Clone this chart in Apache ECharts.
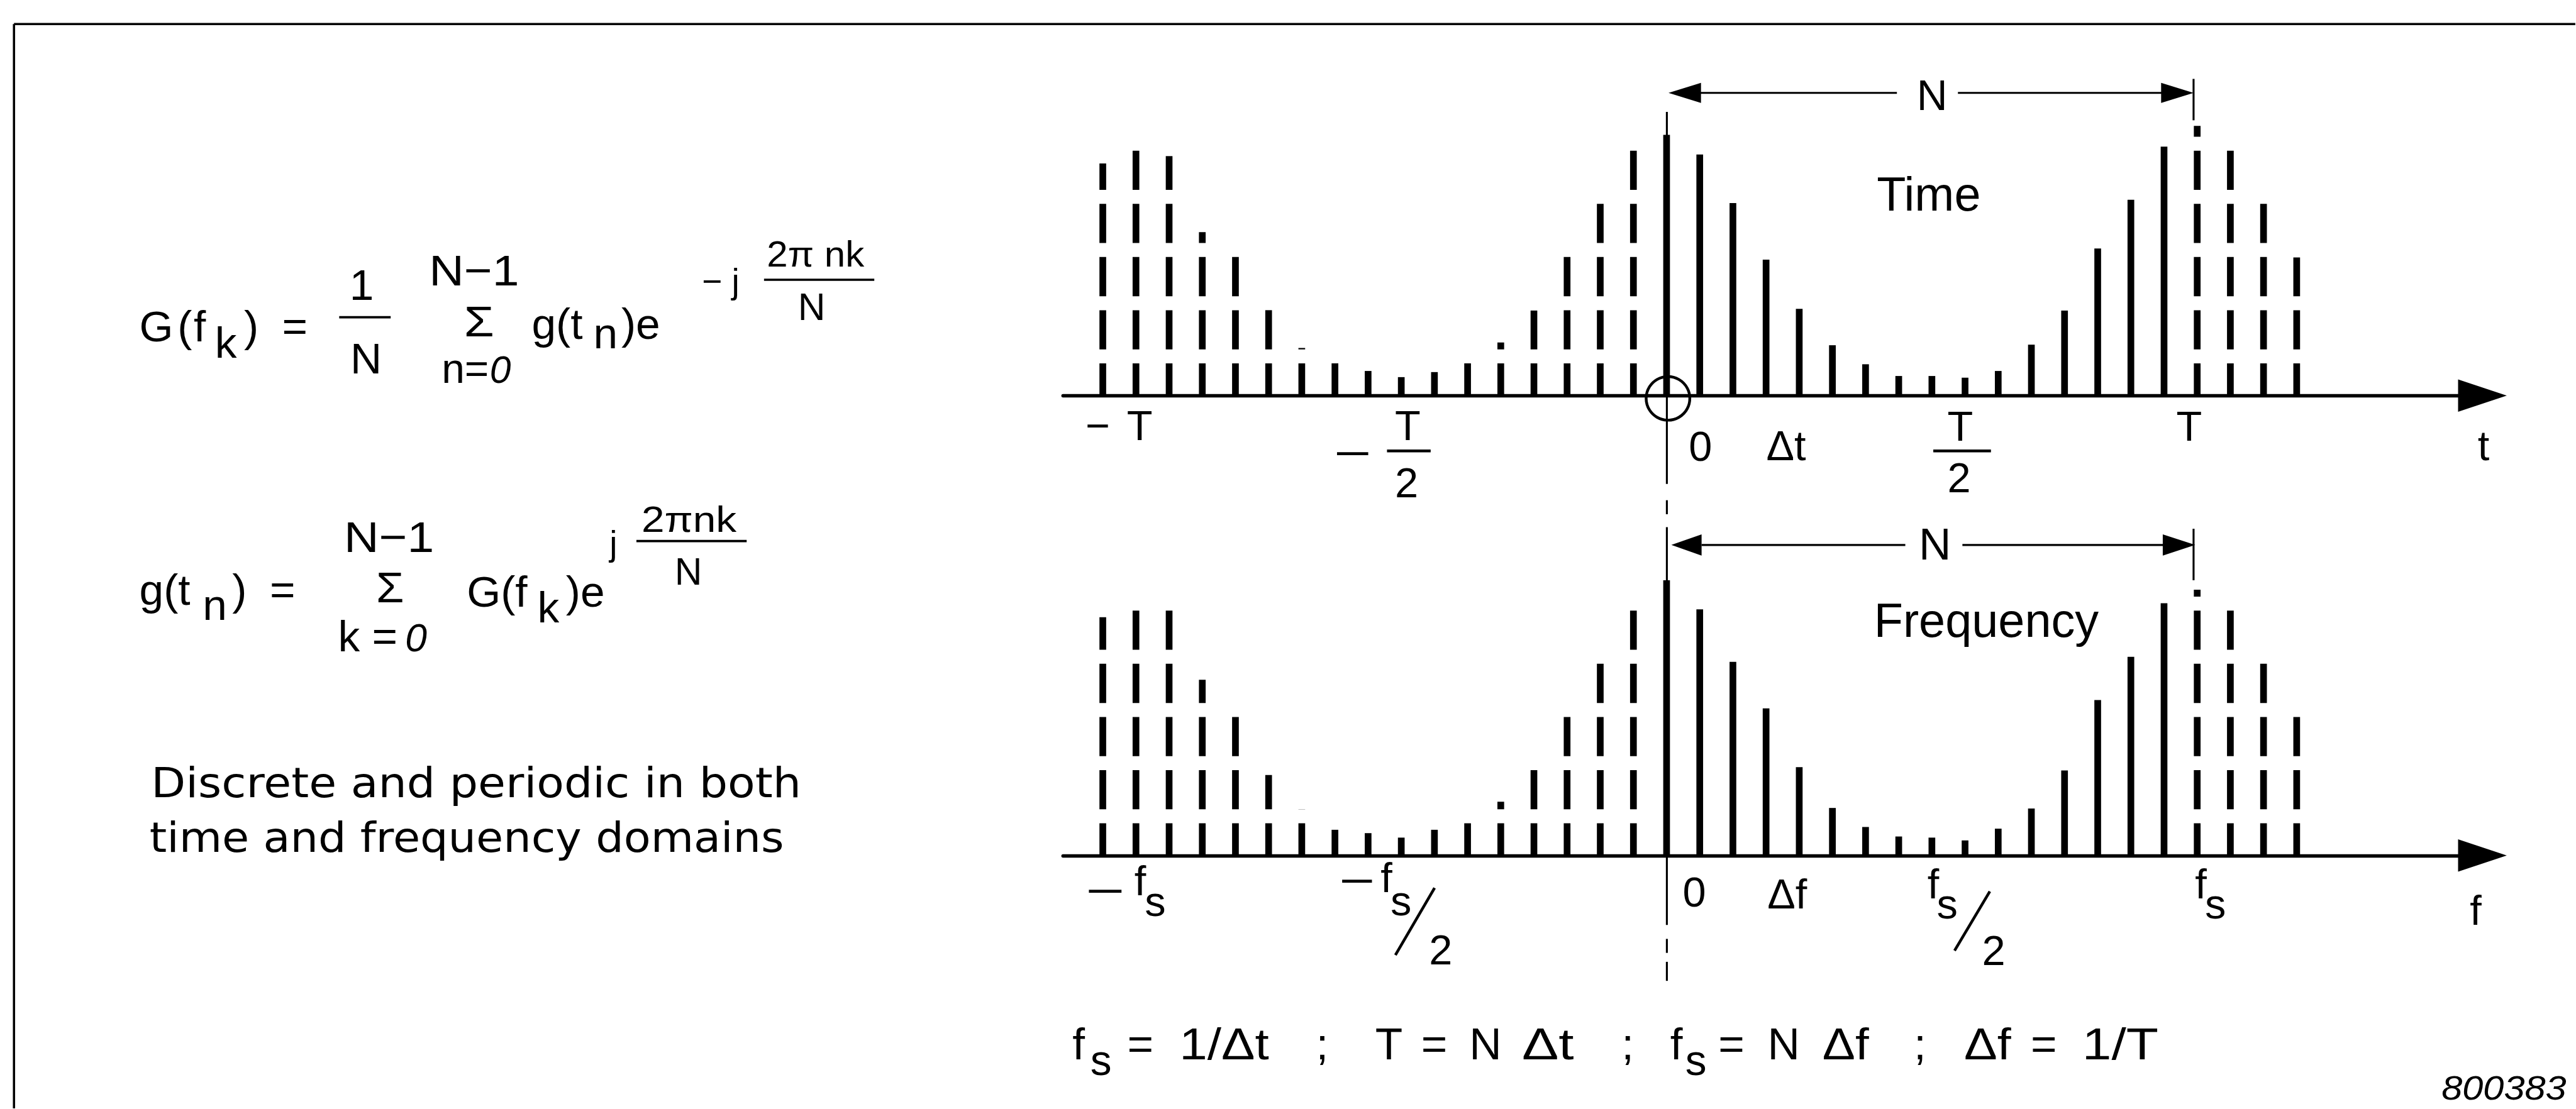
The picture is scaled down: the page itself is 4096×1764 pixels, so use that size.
<!DOCTYPE html>
<html><head><meta charset="utf-8">
<script src="https://cdn.jsdelivr.net/npm/echarts@6/dist/echarts.min.js"></script>
<style>html,body{margin:0;padding:0;background:#fff}#c{width:4096px;height:1764px}</style>
</head><body><div id="c"></div>
<script>
// ---------------- data ----------------
const sampleIndex = [-17,-16,-15,-14,-13,-12,-11,-10,-9,-8,-7,-6,-5,-4,-3,-2,-1,0,1,2,3,4,5,6,7,8,9,10,11,12,13,14,15,16,17,18,19];
const stemStyle = ['dashed','dashed','dashed','dashed','dashed','dashed','dashed','dashed','dashed','dashed','dashed','dashed','dashed','dashed','dashed','dashed','dashed',
  'solid','solid','solid','solid','solid','solid','solid','solid','solid','solid','solid','solid','solid','solid','solid','solid',
  'dashed','dashed','dashed','dashed'];
const timeValues = [83.0,89.2,85.6,58.4,49.8,31.2,17.0,12.0,8.8,6.6,8.4,12.8,19.0,30.4,50.2,69.6,88.4,
  93.2,86.2,68.8,48.6,31.0,18.0,11.2,7.0,7.0,6.4,8.8,18.2,30.4,52.6,70.0,89.0,96.4,90.4,68.8,49.4];
const freqValues = [85.2,90.8,88.0,62.8,50.6,28.8,16.6,9.2,8.0,6.4,9.2,15.6,19.2,33.6,51.8,71.0,89.6,
  98.4,88.0,69.2,52.6,31.6,17.0,10.2,6.8,6.4,5.4,9.6,16.8,30.4,55.6,71.0,90.2,95.0,88.4,70.0,50.6];
const timeTickLabels = ['−T', '−T/2', '0', 'Δt', 'T/2', 'T'];
const freqTickLabels = ['−fs', '−fs/2', '0', 'Δf', 'fs/2', 'fs'];
const axisNames = ['t', 'f'];
const panelTitles = ['Time', 'Frequency'];
const periodLabel = 'N';

// ---------------- layout (reference pixels, scaled by S) ----------------
const S = 0.89;
const OX = 2977.5, UX = 59.25, UY = 5;
const TOP_BASE = 707, BOT_BASE = 1529;
const XMIN = -18.2, XMAX = 24.6, YMAX = 100;
const LABEL = 75;

const ctx = document.createElement('canvas').getContext('2d');
function measure(text, fs, size, fam) { ctx.font = fs + ' ' + size + 'px "' + fam + '"'; return ctx.measureText(text).width; }

function txt(map, X, B, text, size, o) {
  o = o || {};
  const fam = o.fam || 'Liberation Sans';
  const fs = o.italic ? 'italic' : 'normal';
  const align = o.align || 'left';
  const sx = o.w ? o.w / measure(text, fs, size, fam) : 1;
  const p = map(X, B - 0.3465 * size);
  return { type: 'text', x: p[0], y: p[1], scaleX: sx, silent: true,
    style: { text: text, x: 0, y: 0, fontSize: size * S, fontFamily: fam, fontStyle: fs, fill: '#000',
      align: align, verticalAlign: 'middle', textAlign: align, textVerticalAlign: 'middle' } };
}
function seg(map, X1, Y1, X2, Y2, w) {
  const a = map(X1, Y1), b = map(X2, Y2);
  return { type: 'line', silent: true, shape: { x1: a[0], y1: a[1], x2: b[0], y2: b[1] }, style: { stroke: '#000', lineWidth: w * S } };
}
function poly(map, pts) {
  return { type: 'polygon', silent: true, shape: { points: pts.map(q => map(q[0], q[1])) }, style: { fill: '#000' } };
}
function ring(map, X, Y, R, w) {
  const c = map(X, Y);
  return { type: 'circle', silent: true, shape: { cx: c[0], cy: c[1], r: R * S }, style: { fill: 'none', stroke: '#000', lineWidth: w * S } };
}
const absMap = (X, Y) => [X * S, Y * S];
const gMap = (api, base) => (X, Y) => api.coord([(X - OX) / UX, (base - Y) / UY]);

const topTickLayout = [
  { minus: { cx: 1961, b: 787 }, main: { cx: 2036, b: 787 } },
  { minus: { cx: 2417, b: 836, w: 67 }, main: { cx: 2515, b: 787 }, bar: [2478, 2556, 806], den: { cx: 2513, b: 889 } },
  { main: { cx: 3038, b: 824 } },
  { main: { cx: 3191, b: 823 } },
  { main: { cx: 3502, b: 788 }, bar: [3454, 3557, 806], den: { cx: 3500, b: 880 } },
  { main: { cx: 3911, b: 788 } }
];
const botTickLayout = [
  { minus: { cx: 1975, b: 1618, w: 70 }, main: { cx: 2037, b: 1600 }, sub: { cx: 2064, b: 1637 } },
  { minus: { cx: 2424, b: 1600, w: 64 }, main: { cx: 2477, b: 1595 }, sub: { cx: 2503, b: 1636 }, slash: [2563, 1587, 2493, 1707], den: { cx: 2574, b: 1724 } },
  { main: { cx: 3027, b: 1620 } },
  { main: { cx: 3193, b: 1624 } },
  { main: { cx: 3454, b: 1606 }, sub: { cx: 3479, b: 1642 }, slash: [3555, 1593, 3492, 1699], den: { cx: 3562, b: 1725 } },
  { main: { cx: 3932, b: 1606 }, sub: { cx: 3958, b: 1642 } }
];

function tickLabelEls(map, labels, layout) {
  const els = [];
  labels.forEach((lab, i) => {
    const L = layout[i];
    let s = lab; const minus = s.startsWith('−'); if (minus) s = s.slice(1);
    const parts = s.split('/'); const body = parts[0], den = parts[1];
    const main = L.sub ? body.slice(0, 1) : body;
    const sub = L.sub ? body.slice(1) : '';
    if (minus && L.minus) els.push(txt(map, L.minus.cx, L.minus.b, '−', LABEL, { align: 'center', w: L.minus.w }));
    els.push(txt(map, L.main.cx, L.main.b, main, LABEL, { align: 'center' }));
    if (sub) els.push(txt(map, L.sub.cx, L.sub.b, sub, LABEL, { align: 'center' }));
    if (L.bar) els.push(seg(map, L.bar[0], L.bar[2], L.bar[1], L.bar[2], 5));
    if (L.slash) els.push(seg(map, L.slash[0], L.slash[1], L.slash[2], L.slash[3], 5));
    if (den) els.push(txt(map, L.den.cx, L.den.b, den, LABEL, { align: 'center' }));
  });
  return els;
}

function topAnnotations(m) {
  return [
    seg(m, 2978, 200, 2978, 865, 3.5),
    ring(m, 2980, 712, 39, 5),
    seg(m, 3035, 166, 3389, 166, 3.5),
    seg(m, 3498, 166, 3865, 166, 3.5),
    poly(m, [[2981, 166], [3039, 148], [3039, 184]]),
    poly(m, [[3919, 166], [3861, 148], [3861, 184]]),
    seg(m, 3919, 141, 3919, 215, 3.5),
    txt(m, 3452, 197, periodLabel, 76, { align: 'center' }),
    txt(m, 3353, 377, panelTitles[0], 85),
    txt(m, 4437, 823, axisNames[0], LABEL, { align: 'center' })
  ].concat(tickLabelEls(m, timeTickLabels, topTickLayout));
}
function botAnnotations(m) {
  return [
    seg(m, 2978, 894, 2978, 919, 3.5),
    seg(m, 2978, 942, 2978, 1653, 3.5),
    seg(m, 2978, 1678, 2978, 1703, 3.5),
    seg(m, 2978, 1719, 2978, 1753, 3.5),
    seg(m, 3040, 974, 3404, 974, 3.5),
    seg(m, 3506, 974, 3865, 974, 3.5),
    poly(m, [[2986, 974], [3040, 955], [3040, 993]]),
    poly(m, [[3922, 974], [3864, 955], [3864, 993]]),
    seg(m, 3919, 945, 3919, 1037, 3.5),
    txt(m, 3457, 1000, periodLabel, 80, { align: 'center' }),
    txt(m, 3348, 1139, panelTitles[1], 85),
    txt(m, 4423, 1653, axisNames[1], LABEL, { align: 'center' })
  ].concat(tickLabelEls(m, freqTickLabels, botTickLayout));
}

// left-hand equations, description, bottom relations, frame
function staticEls() {
  const m = absMap;
  const E = [];
  E.push(seg(m, 25, 43, 4601, 43, 4), seg(m, 25, 43, 25, 1981, 4));
  // equation 1
  E.push(txt(m, 249, 610, 'G', 78), txt(m, 317, 610, '(', 78), txt(m, 346, 610, 'f', 78),
    txt(m, 384, 639, 'k', 78), txt(m, 436, 610, ')', 78), txt(m, 504, 610, '=', 78),
    txt(m, 646, 536, '1', 78, { align: 'center' }), seg(m, 606, 567, 698, 567, 4),
    txt(m, 654, 667, 'N', 78, { align: 'center' }),
    txt(m, 847, 511, 'N−1', 78, { align: 'center', w: 161 }),
    txt(m, 856, 601, 'Σ', 78, { align: 'center', w: 54 }),
    txt(m, 789, 684, 'n=', 74), txt(m, 875, 684, '0', 68, { italic: true }),
    txt(m, 950, 606, 'g(t', 78), txt(m, 1060, 622, 'n', 78), txt(m, 1110, 606, ')e', 78),
    txt(m, 1254, 524, '− j', 62),
    txt(m, 1370, 476, '2π nk', 65, { w: 174 }), seg(m, 1365, 500, 1562, 500, 4),
    txt(m, 1450, 572, 'N', 68, { align: 'center' }));
  // equation 2
  E.push(txt(m, 249, 1081, 'g(t', 78), txt(m, 362, 1108, 'n', 78), txt(m, 415, 1081, ')', 78),
    txt(m, 482, 1081, '=', 78),
    txt(m, 695, 987, 'N−1', 78, { align: 'center', w: 161 }),
    txt(m, 697, 1076, 'Σ', 78, { align: 'center', w: 50 }),
    txt(m, 604, 1164, 'k =', 78), txt(m, 724, 1164, '0', 70, { italic: true }),
    txt(m, 834, 1084, 'G(f', 78), txt(m, 960, 1112, 'k', 78), txt(m, 1011, 1084, ')e', 78),
    txt(m, 1089, 992, 'j', 62),
    txt(m, 1146, 951, '2πnk', 65, { w: 170 }), seg(m, 1137, 967, 1334, 967, 4),
    txt(m, 1230, 1045, 'N', 68, { align: 'center' }));
  // description
  E.push(txt(m, 270, 1425, 'Discrete and periodic in both', 74, { fam: 'DejaVu Sans', w: 1162 }),
    txt(m, 267, 1523, 'time and frequency domains', 74, { fam: 'DejaVu Sans', w: 1134 }));
  // relations
  const B = 1893, SB = 1921, F = 80;
  const rel = [['f', 1916], ['=', 2014], ['1/Δt', 2107, 160], [';', 2351], ['T', 2457], ['=', 2539], ['N', 2625],
    ['Δt', 2719, 93], [';', 2897], ['f', 2984], ['=', 3070], ['N', 3158], ['Δf', 3256, 83], [';', 3419],
    ['Δf', 3509, 84], ['=', 3628], ['1/T', 3720, 136]];
  rel.forEach(r => E.push(txt(m, r[1], B, r[0], F, r[2] ? { w: r[2] } : {})));
  E.push(txt(m, 1948, SB, 's', 76), txt(m, 3011, SB, 's', 76));
  E.push(txt(m, 4585, 1965, '800383', 61, { italic: true, align: 'right', w: 223 }));
  return E;
}

function stemSeries(values, idx) {
  return {
    type: 'custom', xAxisIndex: idx, yAxisIndex: idx, silent: true, z: 3,
    data: sampleIndex.map((k, i) => [k, values[i], stemStyle[i] === 'dashed' ? 1 : 0]),
    renderItem: (params, api) => {
      const p0 = api.coord([api.value(0), 0]);
      const p1 = api.coord([api.value(0), api.value(1)]);
      const dashed = api.value(2) === 1;
      return { type: 'line', shape: { x1: p0[0], y1: p0[1], x2: p1[0], y2: p1[1] },
        style: { stroke: '#000', lineWidth: 12 * S, lineCap: 'butt',
          lineDash: dashed ? [70 * S, 25 * S] : null, lineDashOffset: dashed ? 12 * S : 0 } };
    }
  };
}

const gridLeft = (OX + XMIN * UX) * S, gridWidth = (XMAX - XMIN) * UX * S;
function gridAt(base) { return { left: gridLeft, width: gridWidth, top: (base - YMAX * UY) * S, height: YMAX * UY * S }; }
function xAxisAt(i) {
  return { gridIndex: i, type: 'value', min: XMIN, max: XMAX,
    axisLine: { show: true, lineStyle: { color: '#000', width: 6 * S }, symbol: ['none', 'triangle'], symbolSize: [58 * S, 87 * S] },
    axisTick: { show: false }, axisLabel: { show: false }, splitLine: { show: false } };
}
function yAxisAt(i) { return { gridIndex: i, type: 'value', min: 0, max: YMAX, show: false }; }

const chart = echarts.init(document.getElementById('c'), null, { renderer: 'svg' });
chart.setOption({
  backgroundColor: '#fff',
  animation: false,
  grid: [gridAt(TOP_BASE), gridAt(BOT_BASE)],
  xAxis: [xAxisAt(0), xAxisAt(1)],
  yAxis: [yAxisAt(0), yAxisAt(1)],
  series: [
    stemSeries(timeValues, 0),
    stemSeries(freqValues, 1),
    { type: 'custom', xAxisIndex: 0, yAxisIndex: 0, silent: true, z: 5, data: [[0, 0]],
      renderItem: (p, api) => ({ type: 'group', children: topAnnotations(gMap(api, TOP_BASE)) }) },
    { type: 'custom', xAxisIndex: 1, yAxisIndex: 1, silent: true, z: 5, data: [[0, 0]],
      renderItem: (p, api) => ({ type: 'group', children: botAnnotations(gMap(api, BOT_BASE)) }) }
  ],
  graphic: { elements: staticEls() }
});
</script></body></html>
